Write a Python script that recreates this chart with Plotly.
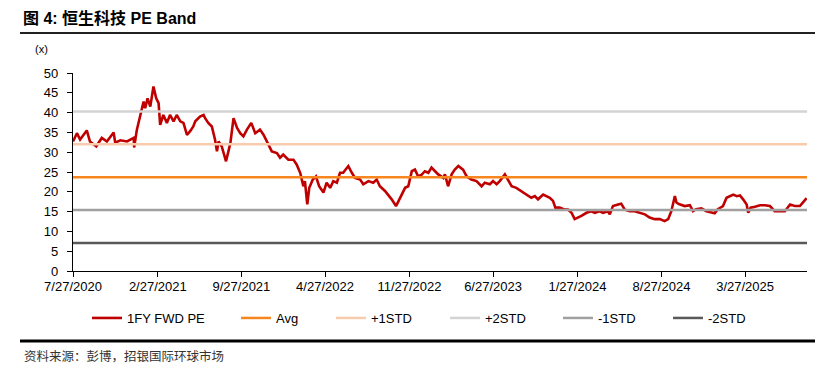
import plotly.graph_objects as go

# ---- data ----
dates = [
    "2020-07-27","2020-08-06","2020-08-14","2020-08-31","2020-09-08","2020-09-24","2020-10-08","2020-10-21",
    "2020-11-07","2020-11-11","2020-11-24","2020-12-11","2020-12-28","2020-12-29","2021-01-05","2021-01-13",
    "2021-01-22","2021-01-26","2021-02-01","2021-02-08","2021-02-16","2021-02-23","2021-03-01","2021-03-05",
    "2021-03-13","2021-03-22","2021-03-30","2021-04-08","2021-04-16","2021-04-25","2021-05-03","2021-05-12",
    "2021-05-20","2021-05-28","2021-06-02","2021-06-14","2021-06-23","2021-06-27","2021-07-05","2021-07-14",
    "2021-07-22","2021-07-27","2021-07-31","2021-08-08","2021-08-19","2021-08-25","2021-08-30","2021-09-07",
    "2021-09-16","2021-09-24","2021-10-02","2021-10-11","2021-10-22","2021-11-01","2021-11-13","2021-11-22",
    "2021-12-04","2021-12-13","2021-12-26","2022-01-03","2022-01-11","2022-01-24","2022-02-06","2022-02-14",
    "2022-02-23","2022-03-03","2022-03-07","2022-03-13","2022-03-18","2022-03-27","2022-04-04","2022-04-12",
    "2022-04-23","2022-05-01","2022-05-10","2022-05-18","2022-05-27","2022-06-04","2022-06-12","2022-06-25",
    "2022-07-04","2022-07-12","2022-07-25","2022-08-02","2022-08-15","2022-08-27","2022-09-05","2022-09-13",
    "2022-09-26","2022-10-04","2022-10-13","2022-10-24","2022-10-30","2022-11-07","2022-11-16","2022-11-24",
    "2022-12-03","2022-12-11","2022-12-19","2022-12-28","2023-01-05","2023-01-14","2023-01-22","2023-01-31",
    "2023-02-08","2023-02-21","2023-02-25","2023-03-05","2023-03-14","2023-03-22","2023-03-31","2023-04-12",
    "2023-04-21","2023-05-03","2023-05-16","2023-05-29","2023-06-06","2023-06-19","2023-06-27","2023-07-06",
    "2023-07-14","2023-07-27","2023-08-04","2023-08-13","2023-08-25","2023-09-07","2023-09-20","2023-10-02",
    "2023-10-11","2023-10-19","2023-11-01","2023-11-09","2023-11-18","2023-11-26","2023-12-02","2023-12-13",
    "2023-12-26","2024-01-03","2024-01-12","2024-01-20","2024-01-29","2024-02-06","2024-02-19","2024-03-02",
    "2024-03-11","2024-03-23","2024-04-01","2024-04-13","2024-04-18","2024-04-26","2024-05-09","2024-05-17",
    "2024-05-26","2024-06-08","2024-06-20","2024-07-03","2024-07-16","2024-07-28","2024-08-10","2024-08-23",
    "2024-09-04","2024-09-13","2024-09-21","2024-09-30","2024-10-04","2024-10-10","2024-10-25","2024-11-07",
    "2024-11-15","2024-11-23","2024-12-06","2024-12-19","2025-01-01","2025-01-09","2025-01-17","2025-01-30",
    "2025-02-08","2025-02-17","2025-02-25","2025-03-06","2025-03-14","2025-03-22","2025-03-31","2025-04-04",
    "2025-04-10","2025-04-21","2025-05-04","2025-05-16","2025-05-29","2025-06-10","2025-06-23","2025-07-06",
    "2025-07-19","2025-07-31","2025-08-13","2025-08-26","2025-08-30",
]
fwd_pe = [
    32.7,34.8,33.2,35.5,32.7,31.5,33.6,32.7,
    35.0,32.4,33.0,32.7,33.6,31.2,35.7,39.0,
    42.8,41.1,43.6,41.5,46.6,43.6,42.4,36.9,
    39.4,37.4,39.4,37.8,39.4,37.8,37.4,34.4,
    35.3,36.5,37.8,39.0,39.4,38.6,37.4,36.5,
    33.2,30.2,32.7,31.5,27.7,30.2,32.3,38.6,
    36.1,34.8,34.0,35.7,37.4,34.8,35.7,34.4,
    31.9,30.2,29.8,28.6,29.4,28.1,28.1,26.9,
    24.8,21.4,22.7,16.8,21.0,23.1,23.9,21.4,
    19.8,22.3,21.0,22.7,22.3,24.8,24.8,26.5,
    24.8,23.5,23.1,21.9,22.7,22.3,23.1,21.4,
    20.2,19.3,18.1,16.4,17.7,19.3,21.0,21.4,
    25.2,25.6,23.9,24.3,25.2,24.8,26.1,25.2,
    24.4,23.5,24.4,21.4,24.4,25.6,26.5,25.6,
    23.9,23.1,22.7,21.4,22.3,21.9,22.7,21.9,
    22.7,24.4,23.1,21.4,21.0,20.2,19.3,18.5,
    18.9,18.1,19.3,18.9,18.5,17.7,16.0,16.0,
    15.5,15.5,14.7,13.1,13.5,13.9,14.7,15.1,
    14.7,15.1,14.7,15.1,14.3,16.4,16.8,17.0,
    15.5,15.1,15.1,14.7,14.3,13.5,13.1,13.1,
    12.6,13.1,15.1,18.9,17.3,16.9,16.4,16.6,
    15.1,15.6,15.8,15.1,14.8,14.6,15.6,16.4,
    18.5,18.9,19.3,18.9,19.1,18.1,16.8,14.7,
    16.0,16.2,16.6,16.6,16.4,15.1,15.1,15.1,
    16.8,16.4,16.4,18.1,18.4,
]
band_names = ["Avg", "+1STD", "+2STD", "-1STD", "-2STD"]
band_values = [23.7, 32.0, 40.3, 15.4, 7.1]
band_colors = ["#F7861E", "#F8CBAD", "#D3D3D3", "#A0A0A0", "#595959"]

tick_dates = ["2020-07-27","2021-02-27","2021-09-27","2022-04-27","2022-11-27",
              "2023-06-27","2024-01-27","2024-08-27","2025-03-27"]
tick_labels = ["7/27/2020","2/27/2021","9/27/2021","4/27/2022","11/27/2022",
               "6/27/2023","1/27/2024","8/27/2024","3/27/2025"]
x_start, x_end = "2020-07-27", "2025-08-31"

FONT = "Liberation Sans, Arial, Noto Sans CJK SC, sans-serif"
CJK = "Noto Sans CJK SC, Liberation Sans, sans-serif"

# page body offsets the figure by 8px; lay out in reference pixels and shift
OFF = 8
W, H = 823, 368
plot_left, plot_right, plot_top, plot_bottom = 73, 807, 73, 271
L = plot_left - OFF
T = plot_top - OFF
R = W - (plot_right - OFF)
B = H - (plot_bottom - OFF)
pw, ph = W - L - R, H - T - B
def px(x): return (x - OFF - L) / pw
def py(y): return (H - B - (y - OFF)) / ph

legend_keys = ["legend", "legend2", "legend3", "legend4", "legend5", "legend6"]
legend_line_starts = [92, 241, 336, 450, 563, 673]

fig = go.Figure()
fig.add_trace(go.Scatter(x=dates, y=fwd_pe, mode="lines", name="1FY FWD PE",
                         line=dict(color="#C00000", width=2.6), legend=legend_keys[0]))
for i, (n, v, c) in enumerate(zip(band_names, band_values, band_colors)):
    fig.add_trace(go.Scatter(x=[x_start, x_end], y=[v, v], mode="lines", name=n,
                             line=dict(color=c, width=2.5), legend=legend_keys[i + 1]))

legend_layout = {}
for k, xs in zip(legend_keys, legend_line_starts):
    legend_layout[k] = dict(orientation="h", x=px(xs - 5), xanchor="left", y=py(318),
                            yanchor="middle", font=dict(size=13, family=FONT),
                            itemwidth=30, bgcolor="rgba(0,0,0,0)", borderwidth=0)

fig.update_layout(
    width=W, height=H,
    margin=dict(l=L, r=R, t=T, b=B),
    paper_bgcolor="white", plot_bgcolor="white",
    font=dict(family=FONT, size=13, color="black"),
    showlegend=True,
    xaxis=dict(type="date", range=[x_start, x_end], tickvals=tick_dates, ticktext=tick_labels,
               showgrid=False, zeroline=False, showline=True, linecolor="black", linewidth=1.3,
               ticks="outside", ticklen=5, tickcolor="black", tickwidth=1.3,
               tickfont=dict(size=13), ticklabelstandoff=-2, fixedrange=True),
    yaxis=dict(range=[0, 50], dtick=5, tick0=0, showgrid=False, zeroline=False, showline=True,
               linecolor="black", linewidth=1.3, ticks="outside", ticklen=5, tickcolor="black",
               tickwidth=1.3, tickfont=dict(size=13), ticklabelstandoff=6, fixedrange=True),
    shapes=[
        dict(type="line", xref="paper", yref="paper", x0=px(20), x1=px(831), y0=py(33), y1=py(33),
             line=dict(color="#222222", width=2)),
        dict(type="line", xref="paper", yref="paper", x0=px(20), x1=px(831), y0=py(341), y1=py(341),
             line=dict(color="black", width=3)),
    ],
    annotations=[
        dict(text="<b>图 4: 恒生科技 PE Band</b>", xref="paper", yref="paper", x=px(21), y=py(18),
             xanchor="left", yanchor="middle", showarrow=False,
             font=dict(size=16, family=FONT, color="black")),
        dict(text="(x)", xref="paper", yref="paper", x=px(33), y=py(49),
             xanchor="left", yanchor="middle", showarrow=False, font=dict(size=11, family=FONT)),
        dict(text="资料来源：彭博，招银国际环球市场", xref="paper", yref="paper", x=px(22), y=py(355),
             xanchor="left", yanchor="middle", showarrow=False,
             font=dict(size=12.5, family=CJK, color="#333333")),
    ],
    **legend_layout,
)

fig.write_html("out.html")
